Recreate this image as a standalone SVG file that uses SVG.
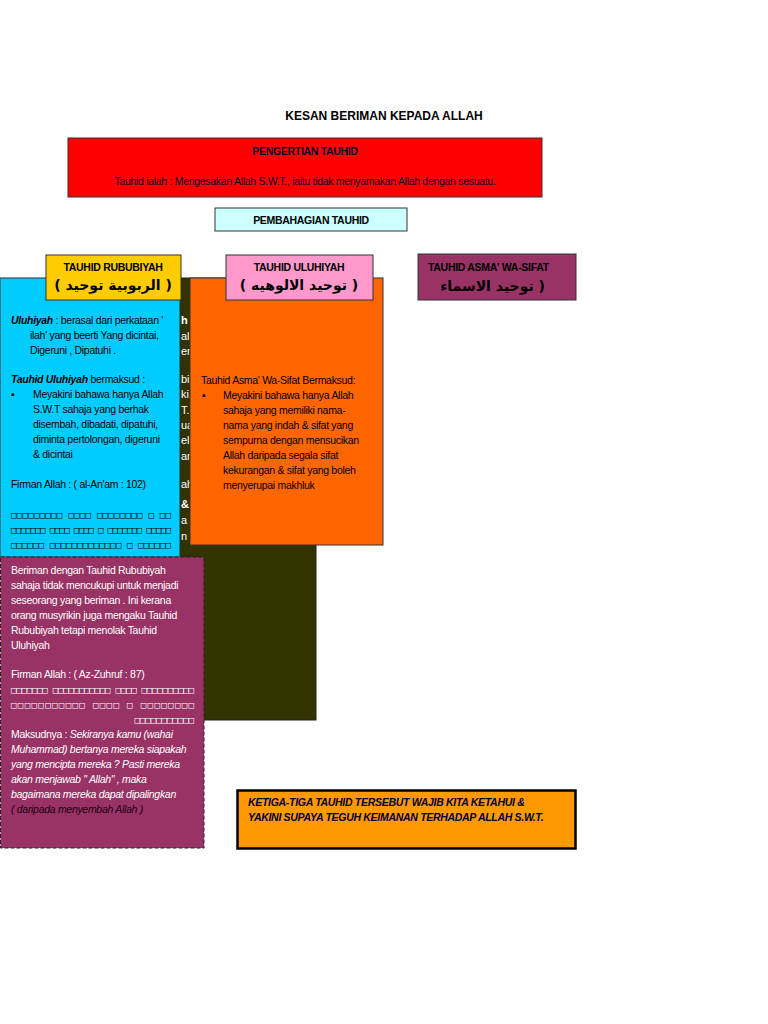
<svg xmlns="http://www.w3.org/2000/svg" width="768" height="1024" viewBox="0 0 768 1024">
<style>
text{font-family:"Liberation Sans",Arial,sans-serif;font-size:11px;fill:#000}
.b{font-weight:bold}
.t{font-size:10.5px;letter-spacing:-0.3px}
.ar{font-family:"DejaVu Sans","Noto Sans",sans-serif;font-weight:bold;font-size:14px}
.w{fill:#fff}
.sq{font-family:"DejaVu Sans Mono",monospace;font-size:9px;letter-spacing:0px;font-weight:bold}
</style>
<rect width="768" height="1024" fill="#fff"/>
<text x="384" y="120" text-anchor="middle" class="b" style="font-size:12px">KESAN BERIMAN KEPADA ALLAH</text>
<g id="pengertian">
<rect x="68" y="138" width="474" height="59" fill="#ff0000" stroke="#333" stroke-width="1"/>
<text x="305" y="155" text-anchor="middle" class="b t" style="fill:#000033">PENGERTIAN TAUHID</text>
<text x="305" y="185" text-anchor="middle" class="t" style="fill:#000033">Tauhid ialah :  Mengesakan Allah S.W.T., iaitu tidak menyamakan Allah dengan sesuatu.</text>
</g>
<g id="pembahagian">
<rect x="215" y="208" width="192" height="23" fill="#ccffff" stroke="#333"/>
<text x="311" y="224" text-anchor="middle" class="b t">PEMBAHAGIAN TAUHID</text>
</g>
<g id="olive">
<rect x="180" y="278" width="136" height="442" fill="#333300" stroke="#222"/>
<g class="w" style="font-size:11px">
<text x="181" y="324" class="b w">h</text><text x="181" y="340" class="w">al</text><text x="181" y="355" class="w">em</text>
<text x="181" y="383" class="w">bi</text><text x="181" y="398" class="w">ki</text><text x="181" y="414" class="w">T. y</text>
<text x="181" y="429" class="w">ua</text><text x="181" y="444" class="w">eli</text><text x="181" y="460" class="w">ar</text>
<text x="181" y="488" class="w">ah</text><text x="181" y="508" class="w b">&amp;</text><text x="181" y="524" class="w">a</text><text x="181" y="540" class="w">n</text>
</g>
</g>
<g id="asma-detail">
<rect x="190" y="278" width="193" height="267" fill="#ff6600" stroke="#333"/>
<text x="201" y="384" class="t">Tauhid Asma' Wa-Sifat Bermaksud:</text>
<text x="202" y="399" class="t">▪</text>
<text x="223" y="399" class="t">Meyakini bahawa hanya Allah</text>
<text x="223" y="414" class="t">sahaja yang memiliki nama-</text>
<text x="223" y="429" class="t">nama yang indah  &amp; sifat yang</text>
<text x="223" y="444" class="t">sempurna dengan mensucikan</text>
<text x="223" y="459" class="t">Allah daripada segala sifat</text>
<text x="223" y="474" class="t">kekurangan &amp; sifat yang boleh</text>
<text x="223" y="489" class="t">menyerupai makhluk</text>
</g>
<g id="uluhiyah-detail">
<rect x="0" y="278" width="180" height="279" fill="#00ccff" stroke="#333"/>
<text x="11" y="324" class="t"><tspan font-style="italic" font-weight="bold">Uluhiyah</tspan> : berasal dari perkataan '</text>
<text x="30" y="339" class="t">ilah'  yang beerti Yang dicintai,</text>
<text x="30" y="354" class="t">Digeruni , Dipatuhi .</text>
<text x="11" y="383" class="t"><tspan font-style="italic" font-weight="bold">Tauhid Uluhiyah</tspan>  bermaksud :</text>
<text x="11" y="398" class="t">▪</text>
<text x="33" y="398" class="t">Meyakini bahawa hanya Allah</text>
<text x="33" y="413" class="t">S.W.T sahaja  yang berhak</text>
<text x="33" y="428" class="t">disembah, dibadati, dipatuhi,</text>
<text x="33" y="443" class="t">diminta pertolongan, digeruni</text>
<text x="33" y="458" class="t">&amp; dicintai</text>
<text x="11" y="488" class="t">Firman Allah : ( al-An'am : 102)</text>
<text x="11" y="518" class="sq" textLength="160">□□□□□□□□□  □□□□  □□□□□□□□  □  □□</text>
<text x="11" y="533" class="sq" textLength="160">□□□□□□□ □□□□ □□□□ □ □□□□□□□ □□□□□</text>
<text x="11" y="548" class="sq" textLength="160">□□□□□□  □□□□□□□□□□□□□  □  □□□□□□</text>
</g>
<g id="rububiyah">
<rect x="46" y="255" width="135" height="45" fill="#ffcc00" stroke="#333"/>
<text x="113" y="271" text-anchor="middle" class="b t">TAUHID  RUBUBIYAH</text>
<text x="113" y="290" text-anchor="middle" class="ar">( الربوبية توحيد )</text>
</g>
<g id="uluhiyah">
<rect x="226" y="255" width="147" height="45" fill="#ff99cc" stroke="#333"/>
<text x="299" y="271" text-anchor="middle" class="b t">TAUHID ULUHIYAH</text>
<text x="299" y="290" text-anchor="middle" class="ar">( توحيد الالوهيه )</text>
</g>
<g id="asma">
<rect x="418" y="254" width="158" height="46" fill="#993366" stroke="#333"/>
<text x="428" y="271" class="b t">TAUHID ASMA' WA-SIFAT</text>
<text x="545" y="291" text-anchor="end" class="ar">توحيد الاسماء )</text>
</g>
<g id="rububiyah-detail">
<rect x="0.5" y="557" width="203.5" height="291" fill="#993366" stroke="#222" stroke-dasharray="4,2"/>
<g class="w">
<text x="11" y="574" class="t w">Beriman dengan Tauhid Rububiyah</text>
<text x="11" y="589" class="t w">sahaja tidak mencukupi  untuk menjadi</text>
<text x="11" y="604" class="t w">seseorang yang beriman . Ini kerana</text>
<text x="11" y="619" class="t w">orang musyrikin juga mengaku Tauhid</text>
<text x="11" y="634" class="t w">Rububiyah tetapi menolak Tauhid</text>
<text x="11" y="649" class="t w">Uluhiyah</text>
<text x="11" y="678" class="t w">Firman Allah : ( Az-Zuhruf : 87)</text>
<text x="11" y="693" class="sq w" textLength="183">□□□□□□□  □□□□□□□□□□□  □□□□  □□□□□□□□□□</text>
<text x="11" y="708" class="sq w" textLength="183">□□□□□□□□□□□    □□□□    □    □□□□□□□□</text>
<text x="194" y="723" class="sq w" text-anchor="end">□□□□□□□□□□□</text>
<text x="11" y="738" class="t w">Maksudnya : <tspan font-style="italic">Sekiranya kamu (wahai</tspan></text>
<text x="11" y="753" class="t w" font-style="italic">Muhammad) bertanya mereka siapakah</text>
<text x="11" y="768" class="t w" font-style="italic">yang mencipta mereka ? Pasti mereka</text>
<text x="11" y="783" class="t w" font-style="italic">akan menjawab " Allah" , maka</text>
<text x="11" y="798" class="t w" font-style="italic">bagaimana mereka dapat dipalingkan</text>
<text x="11" y="813" class="t" font-style="italic" style="fill:#1a0010">( daripada menyembah Allah )</text>
</g>
</g>
<g id="ketiga">
<rect x="237.5" y="790.5" width="338" height="58" fill="#ff9900" stroke="#000" stroke-width="2.5"/>
<text x="248" y="806" class="b t" font-style="italic" style="fill:#000033">KETIGA-TIGA TAUHID  TERSEBUT WAJIB KITA KETAHUI &amp;</text>
<text x="248" y="821" class="b t" font-style="italic" style="fill:#000033">YAKINI SUPAYA TEGUH KEIMANAN TERHADAP ALLAH S.W.T.</text>
</g>
<g id="connectors"></g>
</svg>
